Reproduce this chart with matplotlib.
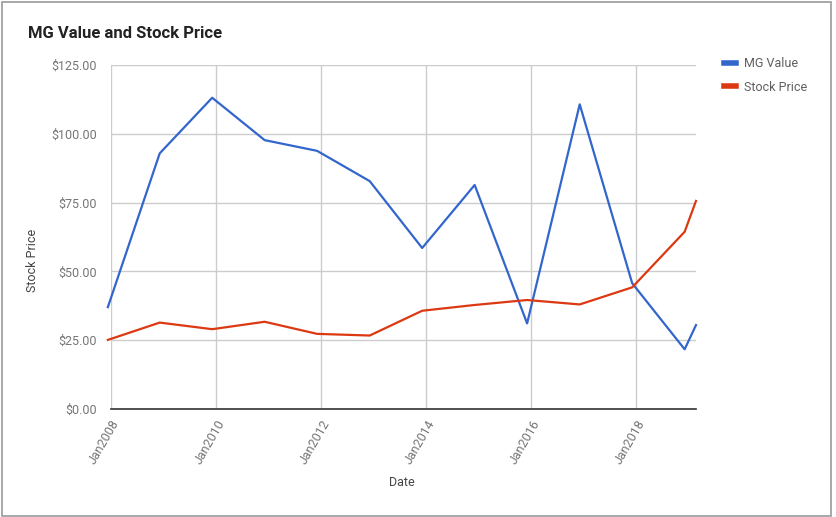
import matplotlib
matplotlib.use("Agg")
import matplotlib.pyplot as plt
import matplotlib.dates as mdates
from matplotlib.patches import Rectangle
from matplotlib.ticker import FuncFormatter
from datetime import datetime

# data
dates = ["2007-12-10", "2008-12-05", "2009-12-05", "2010-12-05", "2011-12-05",
         "2012-12-05", "2013-12-05", "2014-12-05", "2015-12-05", "2016-12-05",
         "2017-12-05", "2018-12-05", "2019-02-22"]
mg_value = [37.0, 92.9, 113.1, 97.7, 93.8, 82.8, 58.5, 81.4, 31.1, 110.7, 45.7, 21.7, 30.5]
stock_price = [25.1, 31.4, 29.0, 31.7, 27.3, 26.7, 35.7, 37.8, 39.6, 38.0, 44.2, 64.4, 75.6]
tick_years = [2008, 2010, 2012, 2014, 2016, 2018]

plt.rcParams["font.family"] = ["Roboto", "DejaVu Sans"]

W, H = 836, 517
fig = plt.figure(figsize=(W / 100, H / 100), dpi=100)
fig.patch.set_facecolor("white")

# outer frame of the chart
fig.patches.append(Rectangle((2 / W, 1 / H), 829 / W, 514 / H, transform=fig.transFigure,
                             fill=False, edgecolor="#9a9a9a", linewidth=1.2))

ax = fig.add_axes([111 / W, (H - 409) / H, (696 - 111) / W, (409 - 65) / H])
x = [datetime.strptime(d, "%Y-%m-%d") for d in dates]

ax.plot(x, mg_value, color="#3366cc", linewidth=1.6, label="MG Value", clip_on=False, zorder=3)
ax.plot(x, stock_price, color="#dc3912", linewidth=1.6, label="Stock Price", clip_on=False, zorder=3)

ax.set_xlim(datetime(2008, 1, 1), datetime(2019, 2, 22))
ax.set_ylim(0, 125)
ax.set_yticks([0, 25, 50, 75, 100, 125])
ax.yaxis.set_major_formatter(FuncFormatter(lambda v, p: "${:,.2f}".format(v)))
ax.set_xticks([datetime(y, 1, 1) for y in tick_years])
ax.xaxis.set_major_formatter(mdates.DateFormatter("Jan%Y"))

for s in ["top", "right", "left"]:
    ax.spines[s].set_visible(False)
ax.spines["bottom"].set_color("#333333")
ax.spines["bottom"].set_linewidth(1.2)
ax.grid(True, color="#cccccc", linewidth=1)
ax.set_axisbelow(True)
ax.tick_params(axis="both", length=0, labelsize=9, labelcolor="#757575")
ax.tick_params(axis="y", pad=10)
ax.tick_params(axis="x", pad=6)
for lbl in ax.get_xticklabels():
    lbl.set_rotation(60)
    lbl.set_ha("right")
    lbl.set_va("top")
    lbl.set_rotation_mode("anchor")

fig.text(28 / W, 1 - 34 / H, "MG Value and Stock Price", fontsize=12, fontweight="bold",
         color="#222222", va="center", ha="left")
fig.text(33 / W, 1 - 260 / H, "Stock Price", rotation=90, fontsize=9, color="#444444",
         va="center", ha="center")
fig.text(402 / W, 1 - 483 / H, "Date", fontsize=9, color="#444444", va="center", ha="center")

leg = ax.legend(loc="upper left", bbox_to_anchor=(724 / W, 1 - 57 / H), bbox_transform=fig.transFigure,
                frameon=False, fontsize=9, borderpad=0, borderaxespad=0,
                handlelength=0.95, handletextpad=0.65, labelspacing=0.85)
for h in leg.get_lines():
    h.set_linewidth(4)
for t in leg.get_texts():
    t.set_color("#5f5f5f")

fig.savefig("out.png", dpi=100, facecolor="white")
